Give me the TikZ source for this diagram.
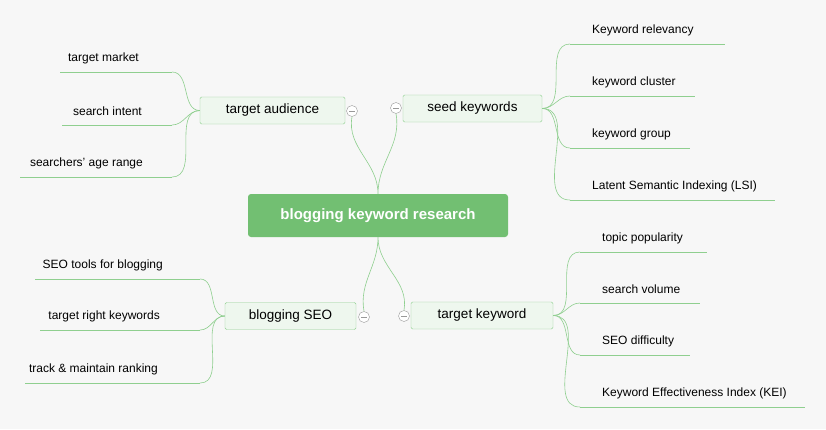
\documentclass[tikz,border=0pt]{standalone}
\usepackage{fontspec}
\setmainfont{Liberation Sans}
\definecolor{mmgreen}{HTML}{72BF72}
\definecolor{mmpale}{HTML}{EEF7EE}
\definecolor{mmline}{HTML}{8FCF8F}
\begin{document}
\begin{tikzpicture}
  [x=1pt, y=-1pt,
   root/.style={rectangle, rounded corners=3pt, fill=mmgreen, text=white,
                minimum width=260pt, minimum height=43pt, font=\fontsize{15}{17}\selectfont\bfseries},
   topic/.style={rectangle, rounded corners=1.5pt, draw=mmline, fill=mmpale,
                 minimum height=27pt, font=\fontsize{13.5}{15}\selectfont},
   leaf/.style={inner sep=0pt, font=\fontsize{12}{14}\selectfont},
   fold/.style={circle, draw=gray!80, fill=white, minimum size=11pt, inner sep=0pt,
                path picture={\draw[gray!80] ([xshift=-3pt]path picture bounding box.center)
                              -- ([xshift=3pt]path picture bounding box.center);}},
   link/.style={draw=mmline, semithick}
  ]
  \fill[white!97!black] (0,0) rectangle (826,429);
  \useasboundingbox (0,0) rectangle (826,429);

  \node[root]                       (R)  at (378,215.5) {blogging keyword research};
  \node[topic, minimum width=145pt] (TA) at (272.5,110.5) {target audience};
  \node[topic, minimum width=139pt] (SK) at (472.5,108.5) {seed keywords};
  \node[topic, minimum width=131pt] (BS) at (290.5,316) {blogging SEO};
  \node[topic, minimum width=142pt] (TK) at (482,315.5) {target keyword};

  % right leaves: name / underline start / end / y / text
  \foreach \n/\a/\b/\y/\t in {
      s1/570/725/44/Keyword relevancy,
      s2/570/695/96/keyword cluster,
      s3/570/690/148/keyword group,
      s4/570/775/200/Latent Semantic Indexing (LSI),
      k1/580/707/252/topic popularity,
      k2/580/700/303/search volume,
      k3/580/690/355/SEO difficulty,
      k4/580/805/407/Keyword Effectiveness Index (KEI)}
  {
    \coordinate (\n-l) at (\a,\y);
    \coordinate (\n-r) at (\b,\y);
    \node[leaf, anchor=west] (\n) at (\a+22,\y-14) {\t};
    \draw[link] (\n-l) -- (\n-r);
  }
  % left leaves: name / underline start / end / y / text end / text
  \foreach \n/\a/\b/\y/\e/\t in {
      a1/60/172/72/139/target market,
      a2/62/172/125/142/search intent,
      a3/20/172/177/143/searchers' age range,
      b1/35/200/279/163/SEO tools for blogging,
      b2/40/200/330/160/target right keywords,
      b3/25/200/383/158/track \& maintain ranking}
  {
    \coordinate (\n-l) at (\a,\y);
    \coordinate (\n-r) at (\b,\y);
    \node[leaf, anchor=east] (\n) at (\e,\y-14) {\t};
    \draw[link] (\n-l) -- (\n-r);
  }

  \node[fold] (fTA) at (352,111) {};
  \node[fold] (fSK) at (396,108) {};
  \node[fold] (fBS) at (364,317) {};
  \node[fold] (fTK) at (404,316) {};

  \path[link] (R.north) to[out=90, in=-100] (fTA.south)
              (R.north) to[out=90, in=-80]  (fSK.south)
              (R.south) to[out=-90, in=100] (fBS.north)
              (R.south) to[out=-90, in=80]  (fTK.north);

  \foreach \l in {a1,a2,a3}
    \path[link] (TA.west) to[out=180, in=0] (\l-r);
  \foreach \l in {b1,b2,b3}
    \path[link] (BS.west) to[out=180, in=0] (\l-r);
  \foreach \l in {s1,s2,s3,s4}
    \path[link] (SK.east) to[out=0, in=180] (\l-l);
  \foreach \l in {k1,k2,k3,k4}
    \path[link] (TK.east) to[out=0, in=180] (\l-l);
\end{tikzpicture}
\end{document}
